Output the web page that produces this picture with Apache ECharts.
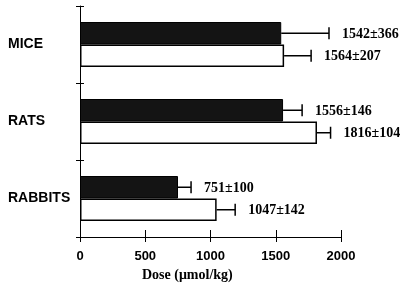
<!DOCTYPE html>
<html>
<head>
<meta charset="utf-8">
<script src="https://cdn.jsdelivr.net/npm/echarts@6/dist/echarts.min.js"></script>
<style>
  html, body { margin: 0; padding: 0; background: #fff; }
  #chart { width: 406px; height: 290px; }
</style>
</head>
<body>
<div id="chart"></div>
<script>
const categories = ["MICE", "RATS", "RABBITS"];
const blackValues = [1542, 1556, 751];
const blackErrors = [366, 146, 100];
const whiteValues = [1564, 1816, 1047];
const whiteErrors = [207, 104, 142];
const xTicks = [0, 500, 1000, 1500, 2000];

const barHeight = 22.5;
const chart = echarts.init(document.getElementById("chart"));

// error bar (positive side only) + value label, drawn on the bar centre
function errorRender(side) {
  return function (params, api) {
    const i = api.value(2);
    const v = api.value(0);
    const e = api.value(1);
    const p0 = api.coord([v, i]);
    const p1 = api.coord([v + e, i]);
    const y = p0[1] + side * barHeight / 2;
    return {
      type: "group",
      children: [
        { type: "line", shape: { x1: p0[0], y1: y, x2: p1[0], y2: y },
          style: { stroke: "#000", lineWidth: 1.5 } },
        { type: "line", shape: { x1: p1[0], y1: y - 6, x2: p1[0], y2: y + 6 },
          style: { stroke: "#000", lineWidth: 1.5 } },
        { type: "text", x: p1[0] + 13, y: y + 1,
          style: { text: v + "±" + e, fill: "#000", verticalAlign: "middle",
                   font: 'bold 14px "Liberation Serif"' } },
      ],
    };
  };
}

const tickStep = xTicks[1] - xTicks[0];

chart.setOption({
  animation: false,
  backgroundColor: "#fff",
  title: {
    text: "Dose (μmol/kg)",
    left: 142,
    top: 268,
    padding: 0,
    textStyle: { fontFamily: "Liberation Serif", fontWeight: "bold", fontSize: 14, color: "#000" },
  },
  grid: { left: 80, right: 65, top: 6, bottom: 53 },
  xAxis: [
    {
      type: "value",
      min: xTicks[0],
      max: xTicks[xTicks.length - 1],
      interval: tickStep,
      splitLine: { show: false },
      axisLine: { show: true, lineStyle: { color: "#000", width: 1 } },
      axisTick: { show: true, length: 5, lineStyle: { color: "#000" } },
      axisLabel: { color: "#000", fontFamily: "Liberation Sans", fontWeight: "bold", fontSize: 13, margin: 13,
                   formatter: (v) => String(v) },
    },
    {
      type: "value",
      position: "bottom",
      min: xTicks[0],
      max: xTicks[xTicks.length - 1],
      interval: tickStep,
      splitLine: { show: false },
      axisLine: { show: false },
      axisTick: { show: true, inside: true, length: 7, lineStyle: { color: "#000" } },
      axisLabel: { show: false },
    },
  ],
  yAxis: [
    {
      type: "category",
      data: categories,
      inverse: true,
      axisLine: { show: true, lineStyle: { color: "#000", width: 1 } },
      axisTick: { show: true, length: 4, lineStyle: { color: "#000" } },
      axisLabel: { color: "#000", fontFamily: "Liberation Sans", fontWeight: "bold", fontSize: 14,
                   align: "left", margin: 72 },
    },
    {
      type: "category",
      data: categories,
      inverse: true,
      position: "left",
      axisLine: { show: false },
      axisTick: { show: true, inside: true, length: 4, lineStyle: { color: "#000" } },
      axisLabel: { show: false },
    },
  ],
  series: [
    {
      type: "bar",
      data: blackValues,
      barWidth: barHeight,
      barGap: "0%",
      itemStyle: { color: "#141414", borderColor: "#000", borderWidth: 1 },
    },
    {
      type: "bar",
      data: whiteValues,
      barWidth: barHeight,
      barGap: "0%",
      itemStyle: { color: "#fff", borderColor: "#000", borderWidth: 1.5 },
    },
    {
      type: "custom",
      renderItem: errorRender(-1),
      encode: { x: 0, y: 2 },
      data: blackValues.map((v, i) => [v, blackErrors[i], i]),
      z: 3,
    },
    {
      type: "custom",
      renderItem: errorRender(1),
      encode: { x: 0, y: 2 },
      data: whiteValues.map((v, i) => [v, whiteErrors[i], i]),
      z: 3,
    },
  ],
});
</script>
</body>
</html>
